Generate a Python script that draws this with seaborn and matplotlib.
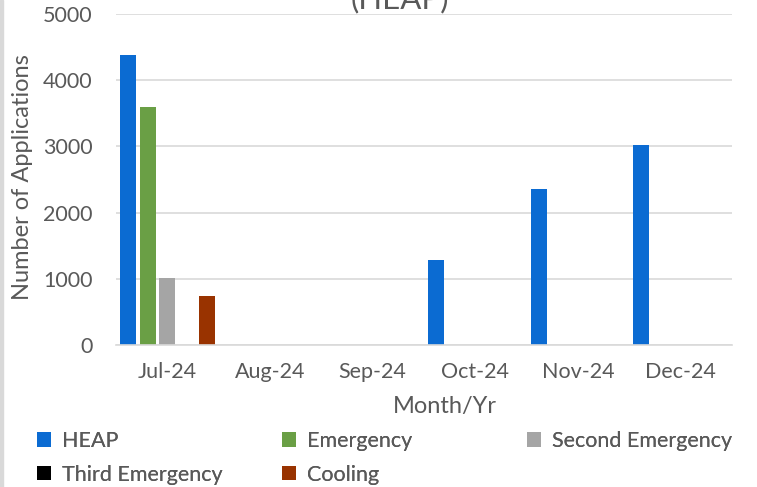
import matplotlib
matplotlib.use("Agg")
import matplotlib.pyplot as plt
import seaborn as sns
import pandas as pd
from matplotlib.patches import Rectangle

# Monthly application counts by program type
months = ["Jul-24", "Aug-24", "Sep-24", "Oct-24", "Nov-24", "Dec-24"]
series_names = ["HEAP", "Emergency", "Second Emergency", "Third Emergency", "Cooling"]
heap = [4380, 0, 0, 1290, 2360, 3020]
emergency = [3600, 0, 0, 0, 0, 0]
second_emergency = [1010, 0, 0, 0, 0, 0]
third_emergency = [0, 0, 0, 0, 0, 0]
cooling = [735, 0, 0, 0, 0, 0]
colors = ["#0B6BD2", "#6A9F45", "#A5A5A5", "#000000", "#993300"]

values = [heap, emergency, second_emergency, third_emergency, cooling]
rows = []
for name, vals in zip(series_names, values):
    for m, v in zip(months, vals):
        rows.append({"Month/Yr": m, "Program": name, "Applications": v})
df = pd.DataFrame(rows)

sns.set_theme(style="white")
plt.rcParams["font.family"] = ["Lato", "DejaVu Sans"]
text_color = "#595959"
fs = 15.5
fs_label = 17

fig = plt.figure(figsize=(7.57, 4.87), dpi=100)
ax = fig.add_axes([116 / 757, 1 - 345 / 487, 616 / 757, 331 / 487])

sns.barplot(data=df, x="Month/Yr", y="Applications", hue="Program",
            order=months, hue_order=series_names, palette=colors,
            width=0.96, gap=0.19, saturation=1, errorbar=None,
            linewidth=0, ax=ax, legend=True)

ax.set_ylim(0, 5000)
ax.set_yticks([0, 1000, 2000, 3000, 4000, 5000])
ax.yaxis.grid(True, color="#D9D9D9", linewidth=1.2)
ax.set_axisbelow(True)
for side in ["top", "right", "left"]:
    ax.spines[side].set_visible(False)
ax.spines["bottom"].set_color("#D9D9D9")
ax.spines["bottom"].set_linewidth(1.2)
ax.tick_params(axis="both", length=0, labelsize=fs, labelcolor=text_color)
ax.tick_params(axis="y", pad=17)
ax.tick_params(axis="x", pad=12)

ax.set_xlabel("Month/Yr", fontsize=fs_label, color=text_color)
ax.set_ylabel("Number of Applications", fontsize=fs_label, color=text_color)
ax.xaxis.set_label_coords(0.5345, -0.185)
ax.yaxis.set_label_coords(-0.151, 0.506)
ax.xaxis.label.set_va("center")
ax.yaxis.label.set_va("center")

# Legend laid out as fixed-width columns, filled row by row
handles, labels = ax.get_legend_handles_labels()
ax.get_legend().remove()
lookup = dict(zip(labels, handles))
columns = [(37, ["HEAP", "Third Emergency"]),
           (282, ["Emergency", "Cooling"]),
           (527, ["Second Emergency"])]
for x0, names in columns:
    leg = fig.legend([lookup[n] for n in names], names, loc="upper left",
                     bbox_to_anchor=(x0 / 757, 1 - 431 / 487), frameon=False,
                     fontsize=fs, labelcolor=text_color, borderpad=0,
                     borderaxespad=0, handlelength=0.65, handleheight=0.65,
                     handletextpad=0.5, labelspacing=0.64)
    fig.add_artist(leg)

fig.text(400 / 757, 1 - 8 / 487, "(HEAP)", ha="center", va="baseline",
         fontsize=22.5, color=text_color)

fig.patches.append(Rectangle((0, 0), 2.5 / 757, 1, transform=fig.transFigure,
                             color="#D9D9D9", zorder=5))

fig.savefig("out.png", dpi=100)
